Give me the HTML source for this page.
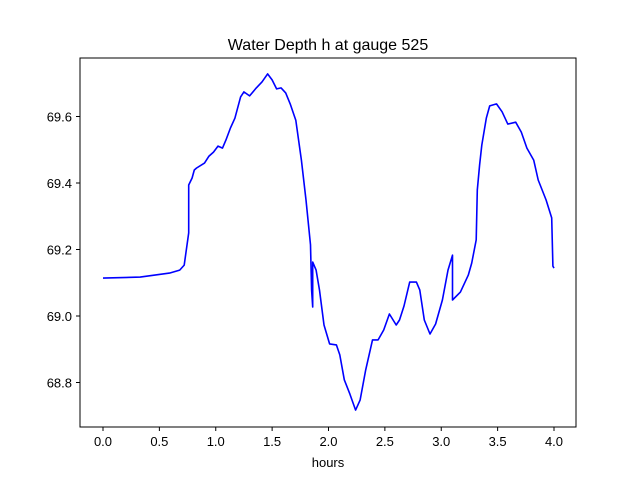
<!DOCTYPE html>
<html><head><meta charset="utf-8"><style>
body{margin:0;background:#fff;}
svg{display:block;font-family:"Liberation Sans","DejaVu Sans",sans-serif;}
</style></head><body>
<svg id="chart" width="640" height="480">
<rect width="640" height="480" fill="#fff"/>
<text x="328" y="50" font-size="16" text-anchor="middle">Water Depth h at gauge 525</text>
<text x="328" y="467" font-size="13" text-anchor="middle">hours</text>
<g id="ticks"></g>
<path id="line" fill="none" stroke="#0000ff" stroke-width="1.6" stroke-linejoin="round"/>
<rect x="80" y="58" width="496" height="369" fill="none" stroke="#000" stroke-width="1"/>
</svg>
<script>
const hours=[0,0.33,0.59,0.68,0.72,0.76,0.76,0.79,0.81,0.83,0.90,0.94,0.98,1.02,1.06,1.09,1.13,1.17,1.22,1.25,1.30,1.36,1.41,1.46,1.50,1.54,1.58,1.62,1.66,1.71,1.76,1.80,1.84,1.85,1.86,1.86,1.89,1.92,1.96,2.01,2.07,2.10,2.14,2.19,2.24,2.28,2.33,2.39,2.44,2.49,2.54,2.60,2.63,2.67,2.72,2.78,2.81,2.85,2.90,2.95,3.01,3.06,3.10,3.10,3.17,3.24,3.27,3.31,3.32,3.34,3.36,3.40,3.43,3.49,3.54,3.59,3.66,3.71,3.76,3.82,3.86,3.93,3.98,3.99,4.00];
const depth=[69.114,69.117,69.129,69.138,69.153,69.250,69.394,69.415,69.439,69.445,69.460,69.481,69.493,69.511,69.505,69.529,69.565,69.595,69.659,69.674,69.662,69.686,69.704,69.728,69.710,69.683,69.686,69.671,69.638,69.589,69.469,69.349,69.214,69.078,69.027,69.162,69.138,69.078,68.973,68.916,68.913,68.883,68.808,68.765,68.717,68.747,68.838,68.928,68.928,68.958,69.006,68.973,68.988,69.030,69.102,69.102,69.078,68.988,68.946,68.976,69.048,69.138,69.183,69.048,69.072,69.123,69.159,69.229,69.379,69.454,69.514,69.595,69.632,69.638,69.614,69.577,69.583,69.553,69.505,69.469,69.409,69.349,69.295,69.150,69.144];
const xTicks=[0,0.5,1.0,1.5,2.0,2.5,3.0,3.5,4.0];
const yTicks=[68.8,69.0,69.2,69.4,69.6];
function xs(v){return 103+v*112.75;}
function ys(v){return 316-(v-69.0)*332.5;}
const NS="http://www.w3.org/2000/svg";
const g=document.getElementById('ticks');
xTicks.forEach(t=>{
 const l=document.createElementNS(NS,'line');
 l.setAttribute('x1',xs(t));l.setAttribute('x2',xs(t));l.setAttribute('y1',427);l.setAttribute('y2',431);l.setAttribute('stroke','#000');
 
 
 g.appendChild(l);
 const tx=document.createElementNS(NS,'text');
 tx.setAttribute('x',xs(t));tx.setAttribute('y',446);tx.setAttribute('font-size','13');tx.setAttribute('text-anchor','middle');
 tx.textContent=t.toFixed(1);
 
 
 g.appendChild(tx);
});
yTicks.forEach(t=>{
 const l=document.createElementNS(NS,'line');
 l.setAttribute('x1',76);l.setAttribute('x2',80);l.setAttribute('y1',ys(t));l.setAttribute('y2',ys(t));l.setAttribute('stroke','#000');
 
 
 g.appendChild(l);
 const tx=document.createElementNS(NS,'text');
 tx.setAttribute('x',72);tx.setAttribute('y',ys(t)+5);tx.setAttribute('font-size','13');tx.setAttribute('text-anchor','end');
 tx.textContent=t.toFixed(1);
 
 
 g.appendChild(tx);
});
document.getElementById('line').setAttribute('d',hours.map((h,i)=>(i?'L':'M')+xs(h).toFixed(1)+','+ys(depth[i]).toFixed(1)).join(''));
</script>
</body></html>
